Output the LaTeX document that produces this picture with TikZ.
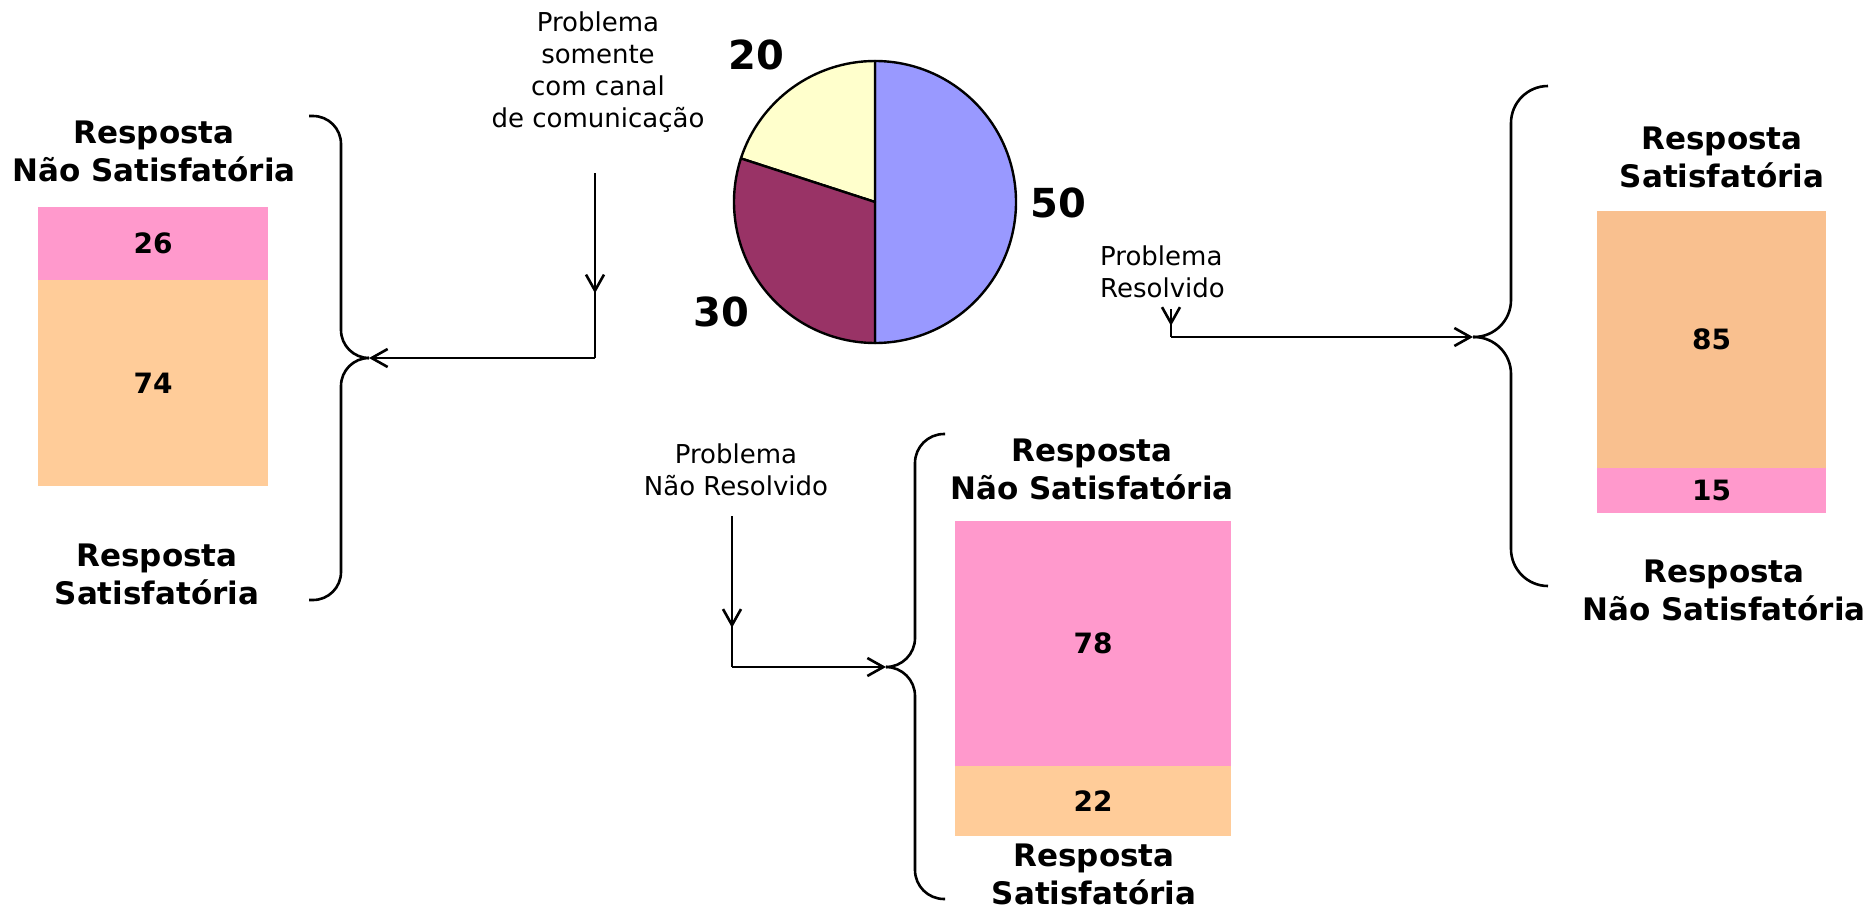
\documentclass[tikz,border=0pt]{standalone}
\usepackage{fontspec}
\setmainfont{DejaVu Sans}
\usetikzlibrary{positioning,arrows.meta,decorations.markings}

\definecolor{pieblue}{HTML}{9999FF}
\definecolor{pieyellow}{HTML}{FFFFCC}
\definecolor{piemaroon}{HTML}{993366}
\definecolor{barpink}{HTML}{FF99CC}
\definecolor{barorange}{HTML}{FFCC99}
\definecolor{barorangedark}{HTML}{F9C08F}

\tikzset{
  answer/.style={align=center, inner sep=0pt, font=\fontsize{31}{38}\selectfont\bfseries},
  note/.style={align=center, inner sep=0pt, font=\fontsize{26}{32}\selectfont},
  share/.style={inner sep=0pt, font=\fontsize{40}{48}\selectfont\bfseries},
  seg/.style={rectangle, inner sep=0pt, minimum width=#1, font=\fontsize{28}{34}\selectfont\bfseries},
  curly/.style={line width=2.6pt, rounded corners=#1},
  flow/.style={line width=2.6pt},
  midarrow/.style={postaction={decorate}, decoration={markings, mark=at position #1 with {\arrow{>}}}},
  >={Straight Barb[length=16pt,width=18pt]},
}

\begin{document}
\begin{tikzpicture}[x=1pt,y=-1pt]
    \useasboundingbox (0,0) rectangle (1874,910);

    % Pie chart
    \coordinate (pie) at (875,202);
    \foreach \from/\to/\col in {-90/90/pieblue, -162/-90/pieyellow, -270/-162/piemaroon}
        \filldraw[fill=\col, line width=2.4pt, line join=round] (pie) -- ++(\from:141) arc[start angle=\from, end angle=\to, radius=141] -- cycle;
    \node[share] (s20) at (756,55) {20};
    \node[share] (s50) at (1058,203) {50};
    \node[share] (s30) at (721,312) {30};

    % Left branch
    \node[note] (nOnly) at (598,72) {Problema\\somente\\com canal\\de comunicação};
    \node[answer] (lTop) at (154,151) {Resposta\\Não Satisfatória};
    \node[seg=230pt, minimum height=73pt, fill=barpink] (l26) at (153,243.5) {26};
    \node[seg=230pt, minimum height=206pt, fill=barorange, below=0pt of l26] (l74) {74};
    \node[answer] (lBot) at (157,574) {Resposta\\Satisfatória};
    \coordinate (lSrc) at (595,173);
    \coordinate (lKnee) at (595,358);
    \coordinate (lTip) at (369,358);
    \draw[flow, midarrow=0.65] (lSrc) -- (lKnee);
    \draw[flow, ->] (lKnee) -- (lTip);
    \draw[curly=28pt] (309,116) -| (341,358) -- (lTip);
    \draw[curly=28pt] (309,600) -| (341,358) -- (lTip);

    % Middle branch
    \node[note] (nNo) at (736,470) {Problema\\Não Resolvido};
    \node[answer] (mTop) at (1092,469) {Resposta\\Não Satisfatória};
    \node[seg=276pt, minimum height=245pt, fill=barpink] (m78) at (1093,643.5) {78};
    \node[seg=276pt, minimum height=70pt, fill=barorange, below=0pt of m78] (m22) {22};
    \node[answer] (mBot) at (1094,874) {Resposta\\Satisfatória};
    \coordinate (mSrc) at (732,516);
    \coordinate (mKnee) at (732,667);
    \coordinate (mTip) at (886,667);
    \draw[flow, midarrow=0.74] (mSrc) -- (mKnee);
    \draw[flow, ->] (mKnee) -- (mTip);
    \draw[curly=29pt] (945,434) -| (915,667) -- (mTip);
    \draw[curly=29pt] (945,899) -| (915,667) -- (mTip);

    % Right branch
    \node[note, align=left, anchor=west] (nYes) at (1100,272) {Problema\\Resolvido};
    \node[answer] (rTop) at (1722,157) {Resposta\\Satisfatória};
    \node[seg=229pt, minimum height=257pt, fill=barorangedark] (r85) at (1711.5,339.5) {85};
    \node[seg=229pt, minimum height=45pt, fill=barpink, below=0pt of r85] (r15) {15};
    \node[answer] (rBot) at (1724,590) {Resposta\\Não Satisfatória};
    \coordinate (rSrc) at (1171,309);
    \coordinate (rKnee) at (1171,337);
    \coordinate (rTip) at (1473,337);
    \draw[flow, midarrow=0.6] (rSrc) -- (rKnee);
    \draw[flow, ->] (rKnee) -- (rTip);
    \draw[curly=37pt] (1548,86) -| (1511,337) -- (rTip);
    \draw[curly=37pt] (1548,586) -| (1511,337) -- (rTip);
\end{tikzpicture}
\end{document}
